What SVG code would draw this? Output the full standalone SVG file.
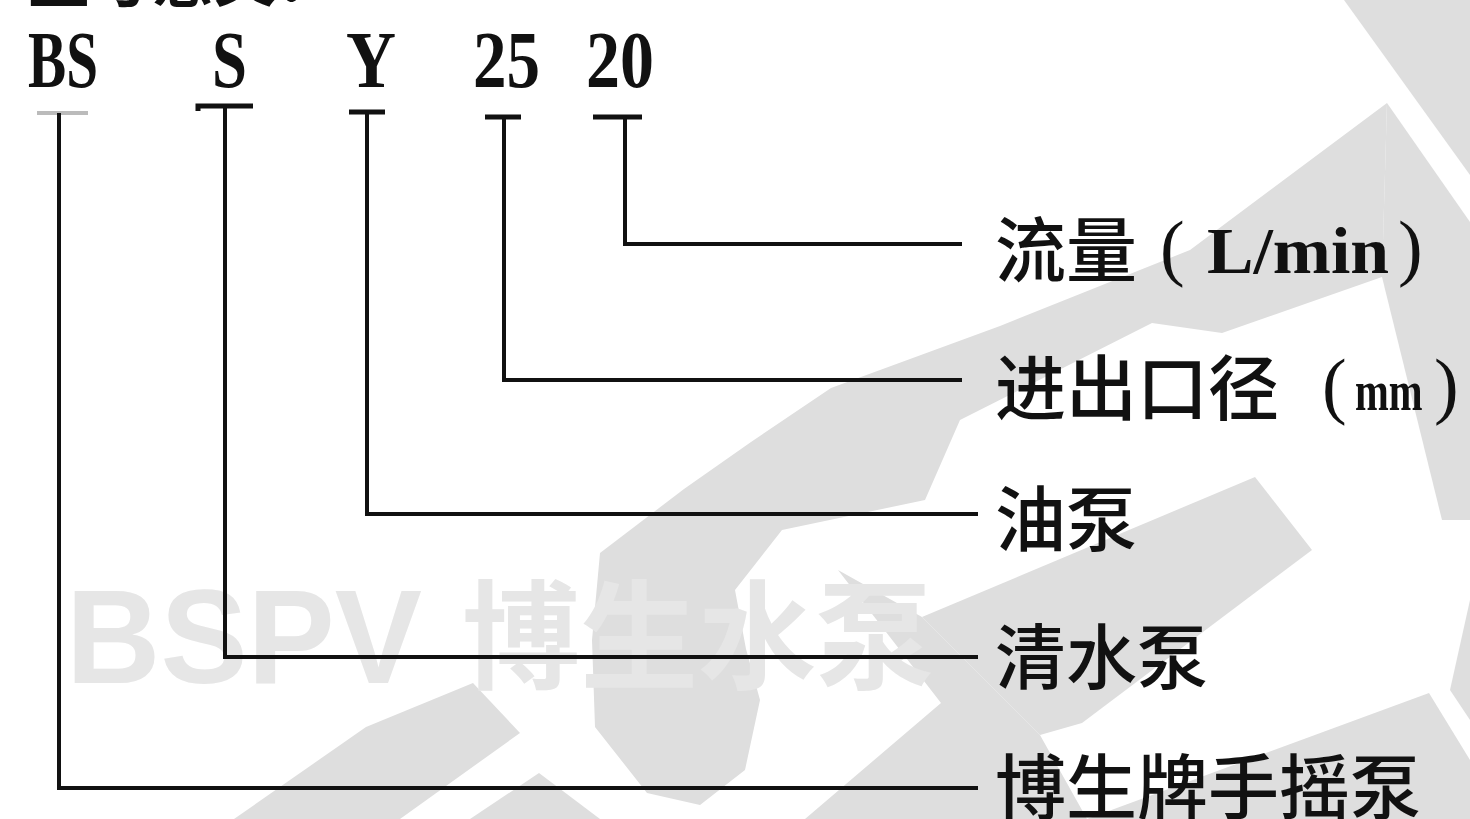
<svg xmlns="http://www.w3.org/2000/svg" width="1470" height="819" viewBox="0 0 1470 819">
<style>
.wm{fill:#dedede}
.wt{fill:#e6e6e6;font-weight:700}
.code{font-family:"Liberation Serif",serif;font-weight:700;font-size:80px;fill:#111}
.lbl{font-family:"Noto Sans CJK SC","Noto Sans CJK JP",sans-serif;font-weight:500;font-size:71px;fill:#111}
.lat{font-family:"Liberation Serif",serif;font-weight:700;fill:#111}
.par{font-family:"Liberation Serif",serif;font-weight:400;font-size:74px;fill:#111}
.ln{stroke:#111;stroke-width:4;fill:none}
.bar{stroke:#111;stroke-width:5;fill:none}
</style>
<rect width="1470" height="819" fill="#ffffff"/>
<g id="watermark">
<polygon class="wm" points="1344,0 1470,0 1470,175"/>
<polygon class="wm" points="1387,103 1470,222 1470,520 1442,520 1382,277"/>
<polygon class="wm" points="1387,103 1190,250 1000,326 831,388 751,442 684,489 600,553 592,640 595,727 647,793 700,805 745,770 760,700 746,649 735,590 782,530 925,500 960,420 1152,323 1222,333 1382,277"/>
<polygon class="wm" points="1255,477 1312,550 1082,723 1040,735 922,617"/>
<polygon class="wm" points="838,570 922,617 1040,735 1087,819 805,819 941,703"/>
<polygon class="wm" points="1429,693 1470,760 1470,819 1087,819"/>
<polygon class="wm" points="473,683 520,733 400,819 234,819 366,727"/>
<polygon class="wm" points="539,773 600,819 470,819"/>
<polygon class="wm" points="1470,600 1450,690 1470,720"/>
<text class="wt" x="66" y="683" font-family="Liberation Sans, sans-serif" font-size="134" textLength="356" lengthAdjust="spacingAndGlyphs">BSPV</text>
<text class="wt" x="462" y="680" font-family="Noto Sans CJK SC, sans-serif" font-size="118" font-weight="400" textLength="472" lengthAdjust="spacingAndGlyphs">博生水泵</text>
</g>
<g id="title">
<text x="28" y="2" font-family="Noto Sans CJK SC, sans-serif" font-weight="700" font-size="62" fill="#111">型号意义：</text>
</g>
<g id="code-BS">
<text class="code" x="28" y="87" textLength="70" lengthAdjust="spacingAndGlyphs">BS</text>
<line x1="37" y1="113" x2="88" y2="113" stroke="#bbbbbb" stroke-width="4"/>
</g>
<g id="code-S">
<text class="code" x="212" y="87" textLength="35" lengthAdjust="spacingAndGlyphs">S</text>
<path class="bar" d="M198,111 L198,106 L253,106"/>
</g>
<g id="code-Y">
<text class="code" x="346" y="87" textLength="50" lengthAdjust="spacingAndGlyphs">Y</text>
<line class="bar" x1="349" y1="112" x2="385" y2="112"/>
</g>
<g id="code-25">
<text class="code" x="473" y="87" textLength="67" lengthAdjust="spacingAndGlyphs">25</text>
<line class="bar" x1="485" y1="117" x2="521" y2="117"/>
</g>
<g id="code-20">
<text class="code" x="586" y="87" textLength="68" lengthAdjust="spacingAndGlyphs">20</text>
<line class="bar" x1="593" y1="117" x2="642" y2="117"/>
</g>
<g id="connectors">
<polyline class="ln" points="625,117 625,244 962,244"/>
<polyline class="ln" points="504,117 504,380 962,380"/>
<polyline class="ln" points="367,112 367,514 978,514"/>
<polyline class="ln" points="225,106 225,657 978,657"/>
<polyline class="ln" points="59,113 59,788 978,788"/>
</g>
<g id="label-flow">
<text class="lbl" x="995" y="276">流量</text>
<text class="par" x="1160" y="272">(</text>
<text class="lat" x="1207" y="273" font-size="66" textLength="182" lengthAdjust="spacingAndGlyphs">L/min</text>
<text class="par" x="1398" y="272">)</text>
</g>
<g id="label-diameter">
<text class="lbl" x="995" y="414">进出口径</text>
<text class="par" x="1322" y="410">(</text>
<text class="lat" font-size="58" transform="translate(1355,410) scale(0.7,1)">mm</text>
<text class="par" x="1434" y="410">)</text>
</g>
<g id="label-oil">
<text class="lbl" x="995" y="545">油泵</text>
</g>
<g id="label-water">
<text class="lbl" x="995" y="683">清水泵</text>
</g>
<g id="label-brand">
<text class="lbl" x="995" y="813">博生牌手摇泵</text>
</g>
</svg>
